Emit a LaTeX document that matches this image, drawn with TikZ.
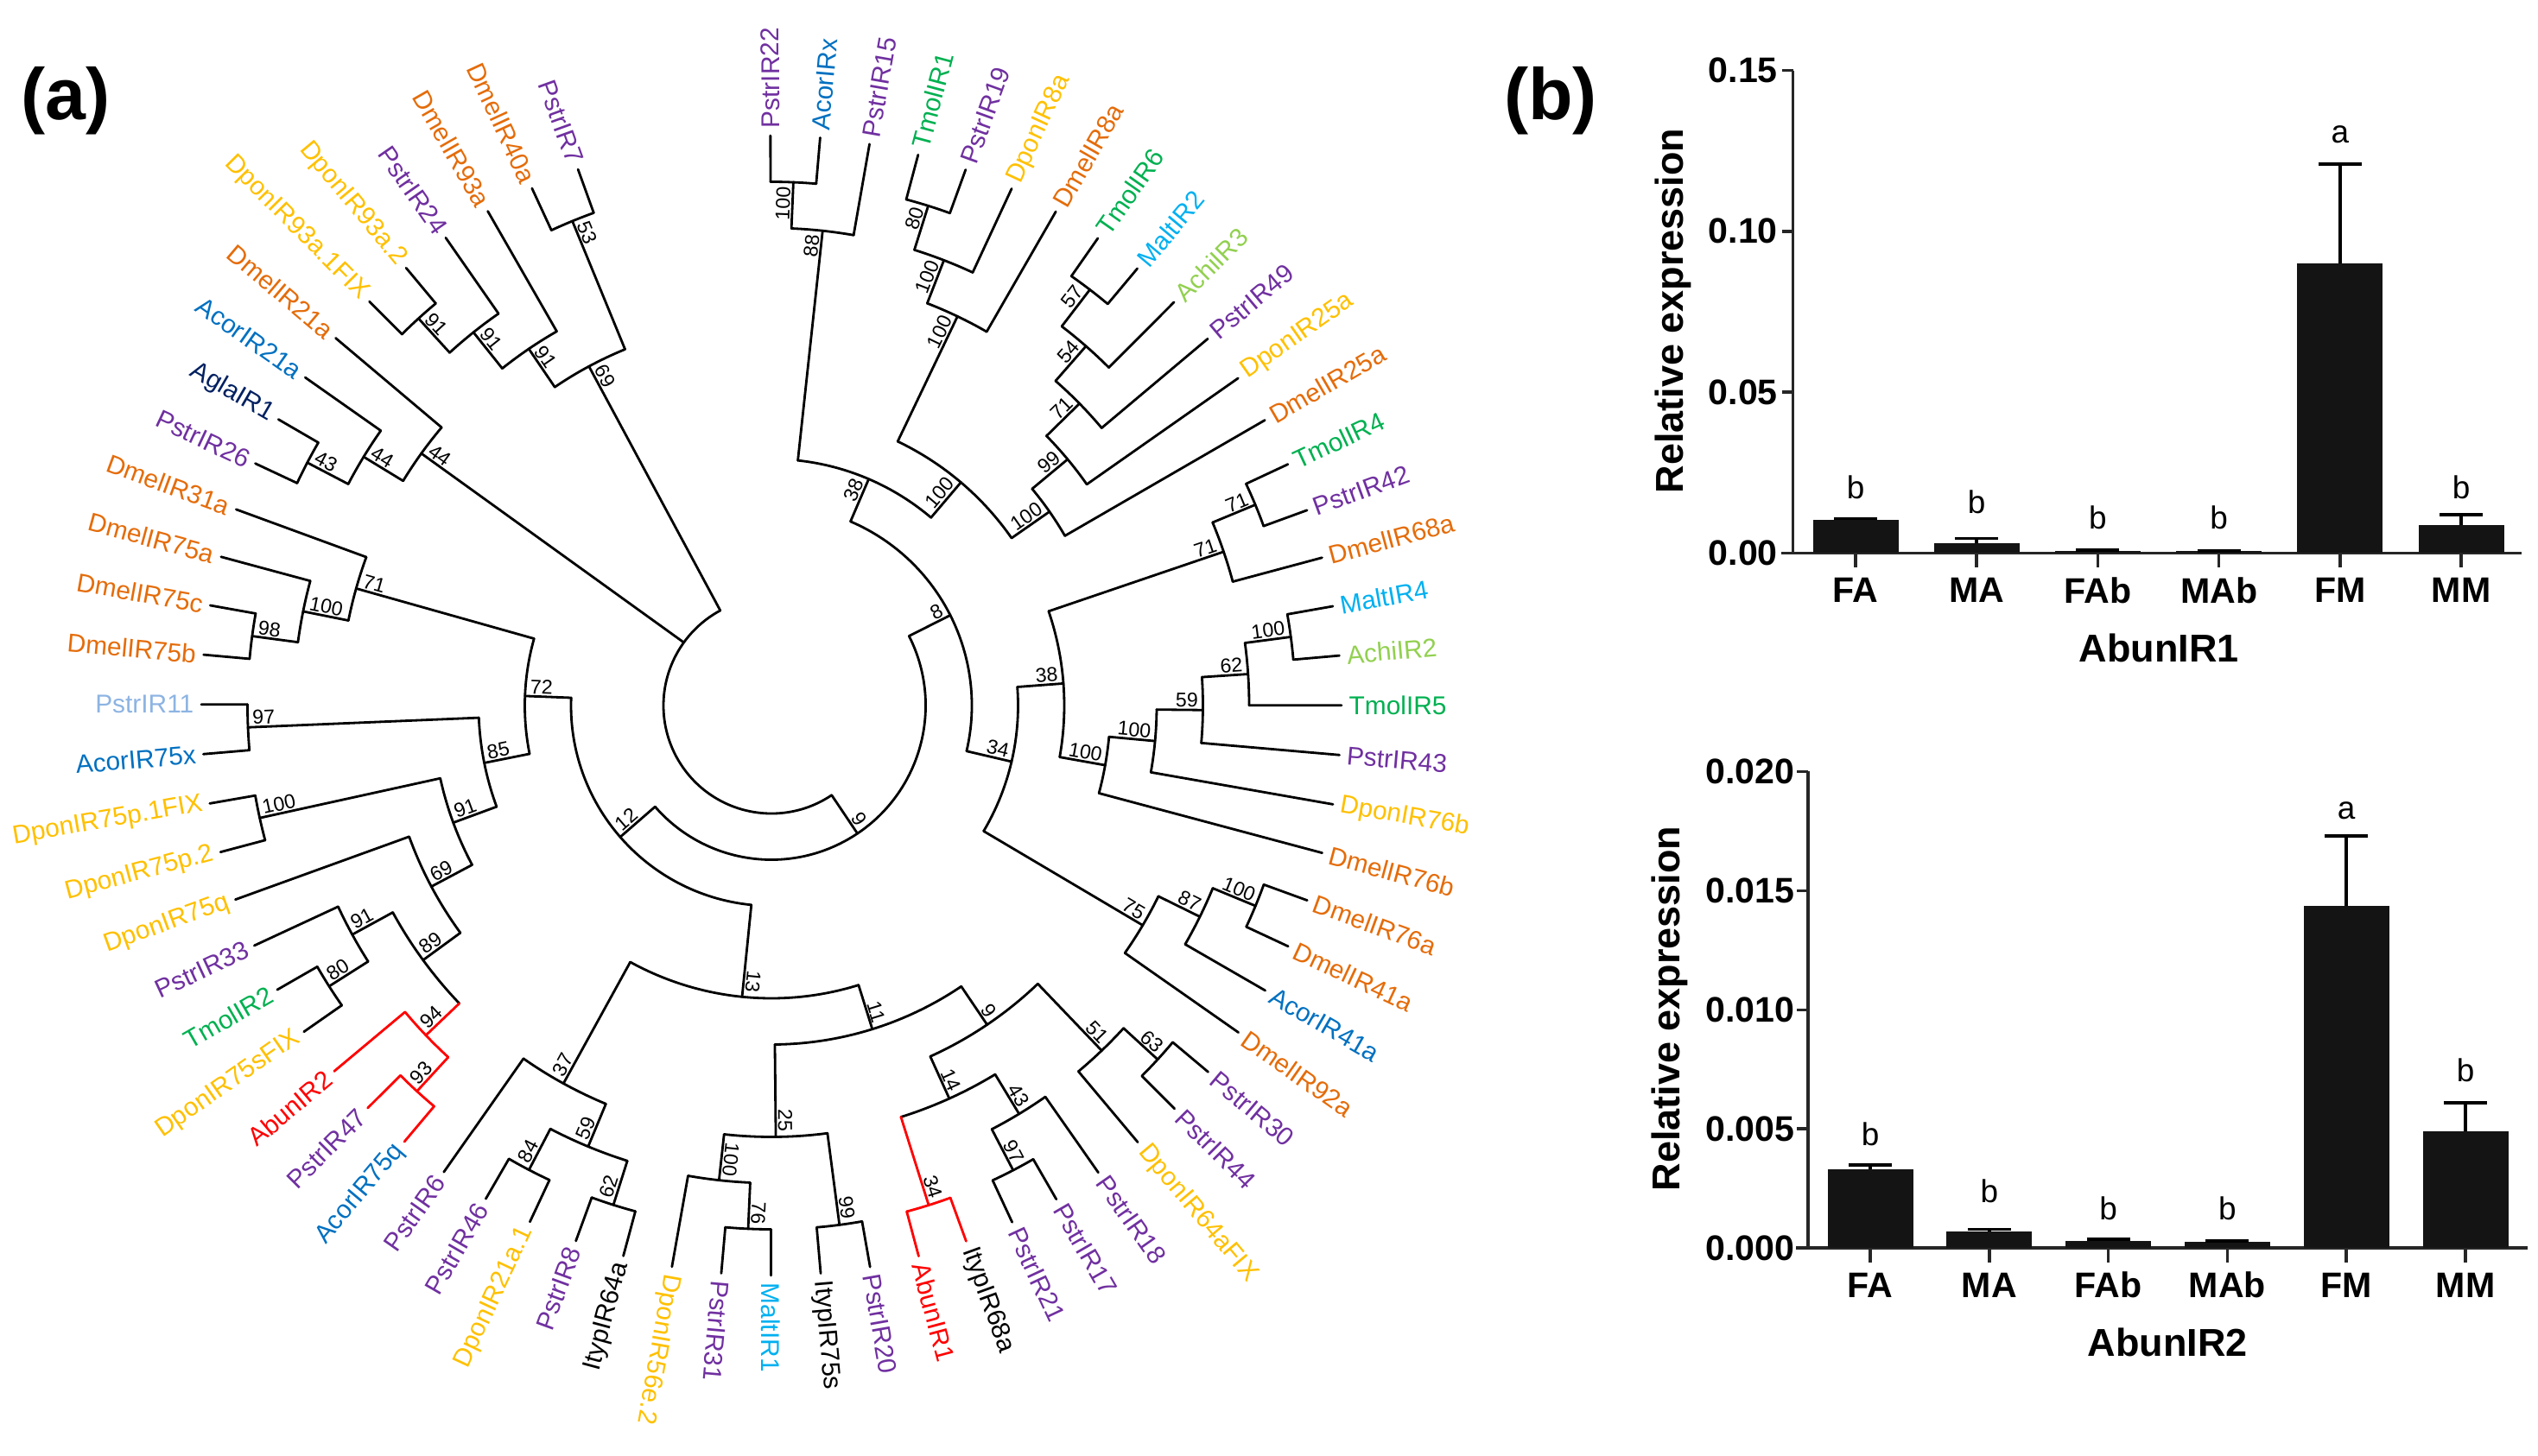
\documentclass[tikz,border=0pt]{standalone}
\usepackage{fontspec}
\setmainfont{Liberation Sans}
\usetikzlibrary{positioning}

\definecolor{cPur}{RGB}{112,48,160}
\definecolor{cOrg}{RGB}{228,108,10}
\definecolor{cYel}{RGB}{255,192,0}
\definecolor{cBlu}{RGB}{0,112,192}
\definecolor{cGrn}{RGB}{0,176,80}
\definecolor{cCyn}{RGB}{0,176,240}
\definecolor{cLgr}{RGB}{146,208,80}
\definecolor{cNav}{RGB}{0,32,96}
\definecolor{cLbl}{RGB}{141,180,226}
\definecolor{cRed}{RGB}{255,0,0}

\newcommand{\tipR}{6.60}
\newcommand{\stepR}{0.535}
\newcommand{\rootR}{1.25}

% leaf: index, id, text, text colour, branch colour
\newcommand{\leafnode}[5]{%
  \pgfmathsetmacro{\lfA}{90.1-5.004*(#1-1)}%
  \pgfmathsetmacro{\lfR}{\tipR+0.08}%
  \expandafter\xdef\csname tA#2\endcsname{\lfA}%
  \expandafter\xdef\csname tC#2\endcsname{#5}%
  \coordinate (#2) at (\lfA:\tipR);
  \pgfmathtruncatemacro{\lfS}{(\lfA>-102.5)?1:0}%
  \ifnum\lfS=1
    \node[leaflab, text=#4, rotate=\lfA, anchor=west] (t#2) at (\lfA:\lfR) {#3};
  \else
    \pgfmathsetmacro{\lfB}{\lfA+180}%
    \node[leaflab, text=#4, rotate=\lfB, anchor=east] (t#2) at (\lfA:\lfR) {#3};
  \fi
}

% inner node: id, child 1, child 2, depth, bootstrap, colour
\newcommand{\treenode}[6]{%
  \edef\chA{\csname tA#2\endcsname}%
  \edef\chB{\csname tA#3\endcsname}%
  \edef\coA{\csname tC#2\endcsname}%
  \edef\coB{\csname tC#3\endcsname}%
  \pgfmathsetmacro{\ndA}{(\chA+\chB)/2}%
  \pgfmathsetmacro{\ndR}{\tipR-\stepR*#4}%
  \pgfmathsetmacro{\ndL}{\ndR-0.03}%
  \expandafter\xdef\csname tA#1\endcsname{\ndA}%
  \expandafter\xdef\csname tC#1\endcsname{#6}%
  \coordinate (#1) at (\ndA:\ndR);
  \draw[branch, draw=#6] (\chA:\ndR) arc[start angle=\chA, end angle=\chB, radius=\ndR];
  \draw[branch, draw=\coA] (\chA:\ndR) -- (#2);
  \draw[branch, draw=\coB] (\chB:\ndR) -- (#3);
  \pgfmathtruncatemacro{\ndS}{(\ndA>-102.5)?1:0}%
  \ifnum\ndS=1
    \node[bootlab, rotate=\ndA, anchor=south east] (b#1) at (\ndA:\ndL) {#5};
  \else
    \pgfmathsetmacro{\ndB}{\ndA+180}%
    \node[bootlab, rotate=\ndB, anchor=south west] (b#1) at (\ndA:\ndL) {#5};
  \fi
}

% bar: x, value, error top, name, text
\newcommand{\expbar}[5]{%
  \fill[barfill] (#1-0.495,0) rectangle (#1+0.495,#2);
  \draw[errline] (#1,#2) -- (#1,#3);
  \draw[errline] (#1-0.25,#3) -- (#1+0.25,#3);
  \draw[axisline] (#1,0) -- ++(0,-0.17cm);
  \node[catlab] (#4) at ([yshift=-0.43cm]#1,0) {#5};
}

\begin{document}
\begin{tikzpicture}[
  branch/.style={line width=0.8pt, line cap=round, line join=round},
  leaflab/.style={font=\fontsize{8.5}{9}\selectfont, inner sep=0pt},
  bootlab/.style={font=\fontsize{6.6}{7}\selectfont, inner sep=0.6pt},
  panellab/.style={font=\fontsize{24}{28}\selectfont\bfseries},
  ticklab/.style={font=\fontsize{11.7}{13}\selectfont\bfseries, inner sep=0pt},
  catlab/.style={font=\fontsize{11.7}{13}\selectfont\bfseries, inner sep=0pt},
  axislab/.style={font=\fontsize{12.8}{14}\selectfont\bfseries, inner sep=0pt},
  siglab/.style={font=\fontsize{10.5}{12}\selectfont, inner sep=0pt},
  axisline/.style={line width=1pt, black!85},
  errline/.style={line width=1.1pt},
  barfill/.style={fill=black!92},
]
\useasboundingbox (0,0) rectangle (29.38,-16.85);

\node[panellab] (pa) at (0.76,-1.17) {(a)};
\node[panellab] (pb) at (17.95,-1.17) {(b)};

\begin{scope}[shift={(8.93,-8.17)}]
\leafnode{1}{l1}{PstrIR22}{cPur}{black}
\leafnode{2}{l2}{AcorIRx}{cBlu}{black}
\leafnode{3}{l3}{PstrIR15}{cPur}{black}
\leafnode{4}{l4}{TmolIR1}{cGrn}{black}
\leafnode{5}{l5}{PstrIR19}{cPur}{black}
\leafnode{6}{l6}{DponIR8a}{cYel}{black}
\leafnode{7}{l7}{DmelIR8a}{cOrg}{black}
\leafnode{8}{l8}{TmolIR6}{cGrn}{black}
\leafnode{9}{l9}{MaltIR2}{cCyn}{black}
\leafnode{10}{l10}{AchiIR3}{cLgr}{black}
\leafnode{11}{l11}{PstrIR49}{cPur}{black}
\leafnode{12}{l12}{DponIR25a}{cYel}{black}
\leafnode{13}{l13}{DmelIR25a}{cOrg}{black}
\leafnode{14}{l14}{TmolIR4}{cGrn}{black}
\leafnode{15}{l15}{PstrIR42}{cPur}{black}
\leafnode{16}{l16}{DmelIR68a}{cOrg}{black}
\leafnode{17}{l17}{MaltIR4}{cCyn}{black}
\leafnode{18}{l18}{AchiIR2}{cLgr}{black}
\leafnode{19}{l19}{TmolIR5}{cGrn}{black}
\leafnode{20}{l20}{PstrIR43}{cPur}{black}
\leafnode{21}{l21}{DponIR76b}{cYel}{black}
\leafnode{22}{l22}{DmelIR76b}{cOrg}{black}
\leafnode{23}{l23}{DmelIR76a}{cOrg}{black}
\leafnode{24}{l24}{DmelIR41a}{cOrg}{black}
\leafnode{25}{l25}{AcorIR41a}{cBlu}{black}
\leafnode{26}{l26}{DmelIR92a}{cOrg}{black}
\leafnode{27}{l27}{PstrIR30}{cPur}{black}
\leafnode{28}{l28}{PstrIR44}{cPur}{black}
\leafnode{29}{l29}{DponIR64aFIX}{cYel}{black}
\leafnode{30}{l30}{PstrIR18}{cPur}{black}
\leafnode{31}{l31}{PstrIR17}{cPur}{black}
\leafnode{32}{l32}{PstrIR21}{cPur}{black}
\leafnode{33}{l33}{ItypIR68a}{black}{cRed}
\leafnode{34}{l34}{AbunIR1}{cRed}{cRed}
\leafnode{35}{l35}{PstrIR20}{cPur}{black}
\leafnode{36}{l36}{ItypIR75s}{black}{black}
\leafnode{37}{l37}{MaltIR1}{cCyn}{black}
\leafnode{38}{l38}{PstrIR31}{cPur}{black}
\leafnode{39}{l39}{DponIR56e.2}{cYel}{black}
\leafnode{40}{l40}{ItypIR64a}{black}{black}
\leafnode{41}{l41}{PstrIR8}{cPur}{black}
\leafnode{42}{l42}{DponIR21a.1}{cYel}{black}
\leafnode{43}{l43}{PstrIR46}{cPur}{black}
\leafnode{44}{l44}{PstrIR6}{cPur}{black}
\leafnode{45}{l45}{AcorIR75q}{cBlu}{cRed}
\leafnode{46}{l46}{PstrIR47}{cPur}{cRed}
\leafnode{47}{l47}{AbunIR2}{cRed}{cRed}
\leafnode{48}{l48}{DponIR75sFIX}{cYel}{black}
\leafnode{49}{l49}{TmolIR2}{cGrn}{black}
\leafnode{50}{l50}{PstrIR33}{cPur}{black}
\leafnode{51}{l51}{DponIR75q}{cYel}{black}
\leafnode{52}{l52}{DponIR75p.2}{cYel}{black}
\leafnode{53}{l53}{DponIR75p.1FIX}{cYel}{black}
\leafnode{54}{l54}{AcorIR75x}{cBlu}{black}
\leafnode{55}{l55}{PstrIR11}{cLbl}{black}
\leafnode{56}{l56}{DmelIR75b}{cOrg}{black}
\leafnode{57}{l57}{DmelIR75c}{cOrg}{black}
\leafnode{58}{l58}{DmelIR75a}{cOrg}{black}
\leafnode{59}{l59}{DmelIR31a}{cOrg}{black}
\leafnode{60}{l60}{PstrIR26}{cPur}{black}
\leafnode{61}{l61}{AglaIR1}{cNav}{black}
\leafnode{62}{l62}{AcorIR21a}{cBlu}{black}
\leafnode{63}{l63}{DmelIR21a}{cOrg}{black}
\leafnode{64}{l64}{DponIR93a.1FIX}{cYel}{black}
\leafnode{65}{l65}{DponIR93a.2}{cYel}{black}
\leafnode{66}{l66}{PstrIR24}{cPur}{black}
\leafnode{67}{l67}{DmelIR93a}{cOrg}{black}
\leafnode{68}{l68}{DmelIR40a}{cOrg}{black}
\leafnode{69}{l69}{PstrIR7}{cPur}{black}

% upper clade
\treenode{a1}{l1}{l2}{1}{100}{black}
\treenode{a2}{a1}{l3}{2}{88}{black}
\treenode{b1}{l4}{l5}{1}{80}{black}
\treenode{b2}{b1}{l6}{2}{100}{black}
\treenode{b3}{b2}{l7}{3}{100}{black}
\treenode{c1}{l8}{l9}{1}{57}{black}
\treenode{c2}{c1}{l10}{2}{54}{black}
\treenode{c3}{c2}{l11}{3}{71}{black}
\treenode{c4}{c3}{l12}{4}{99}{black}
\treenode{c5}{c4}{l13}{5}{100}{black}
\treenode{b4}{b3}{c5}{6}{100}{black}
\treenode{a3}{a2}{b4}{7}{38}{black}
% right clade
\treenode{e1}{l14}{l15}{1}{71}{black}
\treenode{e2}{e1}{l16}{2}{71}{black}
\treenode{f1}{l17}{l18}{1}{100}{black}
\treenode{f2}{f1}{l19}{2}{62}{black}
\treenode{f3}{f2}{l20}{3}{59}{black}
\treenode{f4}{f3}{l21}{4}{100}{black}
\treenode{f5}{f4}{l22}{5}{100}{black}
\treenode{e3}{e2}{f5}{6}{38}{black}
\treenode{g1}{l23}{l24}{1}{100}{black}
\treenode{g2}{g1}{l25}{2}{87}{black}
\treenode{g3}{g2}{l26}{3}{75}{black}
\treenode{e4}{e3}{g3}{7}{34}{black}
\treenode{h1}{a3}{e4}{8}{8}{black}
% lower clade
\treenode{i1}{l27}{l28}{1}{63}{black}
\treenode{i2}{i1}{l29}{2}{51}{black}
\treenode{j1}{l31}{l32}{1}{97}{black}
\treenode{j2}{l30}{j1}{2}{43}{black}
\treenode{k1}{l33}{l34}{1}{34}{cRed}
\treenode{j3}{j2}{k1}{3}{14}{black}
\treenode{i3}{i2}{j3}{4}{9}{black}
\treenode{m1}{l35}{l36}{1}{99}{black}
\treenode{m2}{l37}{l38}{1}{76}{black}
\treenode{m3}{m2}{l39}{2}{100}{black}
\treenode{m4}{m1}{m3}{3}{25}{black}
\treenode{i4}{i3}{m4}{5}{11}{black}
\treenode{p1}{l40}{l41}{1}{62}{black}
\treenode{p2}{l42}{l43}{1}{84}{black}
\treenode{p3}{p1}{p2}{2}{59}{black}
\treenode{p4}{p3}{l44}{3}{37}{black}
\treenode{i5}{i4}{p4}{6}{13}{black}
\treenode{q1}{l45}{l46}{1}{93}{cRed}
\treenode{q2}{q1}{l47}{2}{94}{cRed}
\treenode{q3}{l48}{l49}{1}{80}{black}
\treenode{q4}{q3}{l50}{2}{91}{black}
\treenode{q5}{q2}{q4}{3}{89}{black}
\treenode{q6}{q5}{l51}{4}{69}{black}
\treenode{r1}{l52}{l53}{1}{100}{black}
\treenode{q7}{q6}{r1}{5}{91}{black}
\treenode{s1}{l54}{l55}{1}{97}{black}
\treenode{q8}{q7}{s1}{6}{85}{black}
\treenode{t1}{l56}{l57}{1}{98}{black}
\treenode{t2}{t1}{l58}{2}{100}{black}
\treenode{t3}{t2}{l59}{3}{71}{black}
\treenode{q9}{q8}{t3}{7}{72}{black}
\treenode{u1}{i5}{q9}{8}{12}{black}
\treenode{h2}{h1}{u1}{9}{9}{black}
% upper left
\treenode{v1}{l60}{l61}{1}{43}{black}
\treenode{v2}{v1}{l62}{2}{44}{black}
\treenode{v3}{v2}{l63}{3}{44}{black}
\treenode{w1}{l64}{l65}{1}{91}{black}
\treenode{w2}{w1}{l66}{2}{91}{black}
\treenode{w3}{w2}{l67}{3}{91}{black}
\treenode{w4}{l68}{l69}{1}{53}{black}
\treenode{w5}{w3}{w4}{4}{69}{black}

\edef\chA{\csname tAh2\endcsname}
\edef\chB{\csname tAv3\endcsname}
\edef\chC{\csname tAw5\endcsname}
\coordinate (root) at (0,0);
\draw[branch] (\chA:\rootR) arc[start angle=\chA, end angle=\chC, radius=\rootR];
\draw[branch] (\chA:\rootR) -- (h2);
\draw[branch] (\chB:\rootR) -- (v3);
\draw[branch] (\chC:\rootR) -- (w5);
\end{scope}

% AbunIR1 expression
\begin{scope}[shift={(20.755,-6.403)}, y=37.25cm]
\draw[axisline] (0,0.15) -- (0,0);
\draw[axisline] (-0.14,0) -- (8.43,0);
\foreach \v/\t [count=\k] in {0/0.00,0.05/0.05,0.10/0.10,0.15/0.15}
  {\draw[axisline] (-0.13,\v) -- (0,\v);
   \node[ticklab, anchor=east] (ya\k) at (-0.17,\v) {\t};}
\expbar{0.725}{0.0103}{0.0107}{fa1}{FA}
\expbar{2.127}{0.0031}{0.0045}{ma1}{MA}
\expbar{3.529}{0.0007}{0.0008}{fab1}{FAb}
\expbar{4.931}{0.0005}{0.0006}{mab1}{MAb}
\expbar{6.333}{0.0901}{0.121}{fm1}{FM}
\expbar{7.735}{0.0086}{0.012}{mm1}{MM}
\node[siglab] (sa1) at (0.725,0.0205) {b};
\node[siglab] (sa2) at (2.127,0.0158) {b};
\node[siglab] (sa3) at (3.529,0.0109) {b};
\node[siglab] (sa4) at (4.931,0.0109) {b};
\node[siglab] (sa5) at (6.333,0.1301) {a};
\node[siglab] (sa6) at (7.735,0.0205) {b};
\end{scope}
\node[axislab, rotate=90] (yl1) at (19.37,-3.60) {Relative expression};
\node[axislab] (xl1) at (24.99,-7.50) {AbunIR1};

% AbunIR2 expression
\begin{scope}[shift={(20.93,-14.45)}, y=275.8cm]
\draw[axisline] (0,0.02) -- (0,0);
\draw[axisline] (-0.14,0) -- (8.33,0);
\foreach \v/\t [count=\k] in {0/0.000,0.005/0.005,0.010/0.010,0.015/0.015,0.020/0.020}
  {\draw[axisline] (-0.13,\v) -- (0,\v);
   \node[ticklab, anchor=east] (yb\k) at (-0.15,\v) {\t};}
\expbar{0.72}{0.0033}{0.0035}{fa2}{FA}
\expbar{2.098}{0.0007}{0.00078}{ma2}{MA}
\expbar{3.476}{0.0003}{0.00035}{fab2}{FAb}
\expbar{4.854}{0.00026}{0.0003}{mab2}{MAb}
\expbar{6.232}{0.01436}{0.0173}{fm2}{FM}
\expbar{7.61}{0.0049}{0.0061}{mm2}{MM}
\node[siglab] (sb1) at (0.72,0.00476) {b};
\node[siglab] (sb2) at (2.098,0.00236) {b};
\node[siglab] (sb3) at (3.476,0.00166) {b};
\node[siglab] (sb4) at (4.854,0.00166) {b};
\node[siglab] (sb5) at (6.232,0.01836) {a};
\node[siglab] (sb6) at (7.61,0.00746) {b};
\end{scope}
\node[axislab, rotate=90] (yl2) at (19.33,-11.68) {Relative expression};
\node[axislab] (xl2) at (25.09,-15.54) {AbunIR2};
\end{tikzpicture}
\end{document}
